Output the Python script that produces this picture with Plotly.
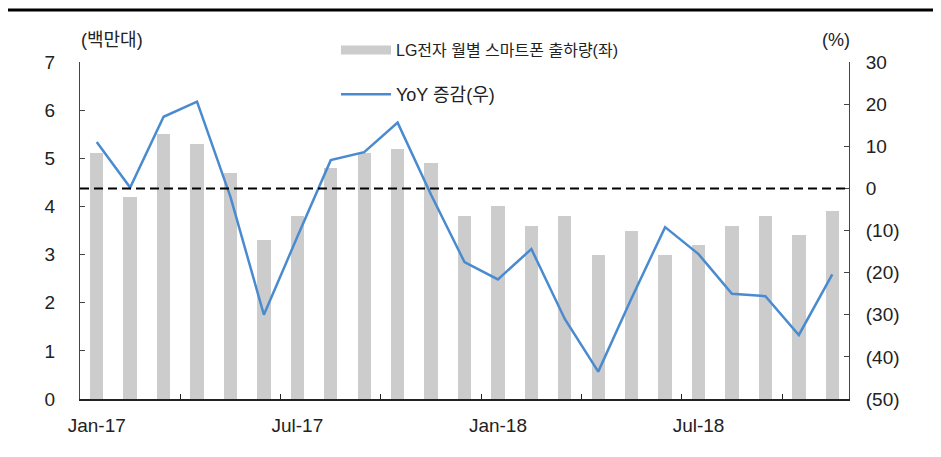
import plotly.graph_objects as go

months = ["Jan-17","Feb-17","Mar-17","Apr-17","May-17","Jun-17","Jul-17","Aug-17","Sep-17","Oct-17","Nov-17","Dec-17",
          "Jan-18","Feb-18","Mar-18","Apr-18","May-18","Jun-18","Jul-18","Aug-18","Sep-18","Oct-18","Nov-18"]
shipments = [5.1, 4.2, 5.5, 5.3, 4.7, 3.3, 3.8, 4.8, 5.1, 5.2, 4.9, 3.8,
             4.0, 3.6, 3.8, 3.0, 3.5, 3.0, 3.2, 3.6, 3.8, 3.4, 3.9]
yoy = [11.0, 0.2, 17.0, 20.6, -2.0, -30.0, -11.5, 6.7, 8.6, 15.6, -1.5, -17.5,
       -21.6, -14.4, -31.0, -43.5, -26.0, -9.2, -15.6, -25.0, -25.6, -34.8, -20.4]
label_idx = [0, 6, 12, 18]
y2_vals = [30, 20, 10, 0, -10, -20, -30, -40, -50]
y2_text = ["30", "20", "10", "0", "(10)", "(20)", "(30)", "(40)", "(50)"]
bar_name = "LG전자 월별 스마트폰 출하량(좌)"
line_name = "YoY 증감(우)"

FONT = "Liberation Sans, Noto Sans CJK KR, sans-serif"
BAR_C = "#cccccc"
LINE_C = "#4a8bd0"
TXT = "#222222"

# page body has an 8px margin; figure sized so the plot lands where the reference has it
W, H = 933, 449
L, T, PW, PH = 72, 54, 769, 337

x = list(range(len(months)))

fig = go.Figure()
fig.add_trace(go.Bar(x=x, y=shipments, width=0.4, marker=dict(color=BAR_C, line=dict(width=0)),
                     showlegend=False, yaxis="y"))
fig.add_trace(go.Scatter(x=x, y=yoy, mode="lines", line=dict(color=LINE_C, width=2.5),
                         showlegend=False, yaxis="y2"))
# legend entries
fig.add_trace(go.Scatter(x=[None], y=[None], mode="lines", line=dict(color=BAR_C, width=9),
                         name=bar_name, legend="legend"))
fig.add_trace(go.Scatter(x=[None], y=[None], mode="lines", line=dict(color=LINE_C, width=2.5),
                         name=line_name, legend="legend2"))


def py(px):  # page-pixel y (in reference) -> paper coord
    return (T + PH - (px - 8)) / PH


def px_(px):
    return ((px - 8) - L) / PW


fig.add_shape(type="line", xref="paper", yref="y2", x0=0, x1=1, y0=0, y1=0,
              line=dict(color="black", width=2, dash="9px,5px"), layer="above")
fig.add_shape(type="line", xref="paper", yref="paper", x0=-0.2, x1=1.2, y0=py(10), y1=py(10),
              line=dict(color="black", width=3))

fig.add_annotation(text="(백만대)", xref="paper", yref="paper", x=px_(79), y=py(40),
                   xanchor="left", yanchor="middle", showarrow=False,
                   font=dict(size=18, family=FONT, color=TXT))
fig.add_annotation(text="(%)", xref="paper", yref="paper", x=px_(852), y=py(40),
                   xanchor="right", yanchor="middle", showarrow=False,
                   font=dict(size=18, family=FONT, color=TXT))

fig.update_layout(
    width=W, height=H,
    margin=dict(l=L, r=W - L - PW, t=T, b=H - T - PH, autoexpand=False),
    paper_bgcolor="white", plot_bgcolor="white",
    font=dict(family=FONT, size=16, color=TXT),
    bargap=0,
    xaxis=dict(range=[-0.5, 22.5], tickmode="array", tickvals=label_idx,
               ticktext=[months[i] for i in label_idx], ticks="", showgrid=False, zeroline=False,
               showline=True, linecolor="#222", linewidth=1.5, automargin=False,
               ticklabelstandoff=8,
               minor=dict(tickmode="array", tickvals=[2.5, 5.5, 8.5, 11.5, 14.5, 17.5, 20.5],
                          ticks="inside", ticklen=5, tickcolor="#222", tickwidth=1, showgrid=False),
               tickfont=dict(size=19)),
    yaxis=dict(range=[0, 7], dtick=1, ticks="inside", ticklen=5, tickcolor="#444",
               showgrid=False, zeroline=False, showline=True, linecolor="#444", linewidth=1,
               automargin=False, ticklabelstandoff=20, tickfont=dict(size=19)),
    yaxis2=dict(range=[-50, 30], overlaying="y", side="right", tickmode="array",
                tickvals=y2_vals, ticktext=y2_text, ticks="inside", ticklen=5, tickcolor="#444",
                showgrid=False, zeroline=False, showline=True, linecolor="#444", linewidth=1,
                automargin=False, ticklabelstandoff=12, tickfont=dict(size=19)),
    legend=dict(x=px_(336), y=py(33), xanchor="left", yanchor="top",
                bgcolor="rgba(0,0,0,0)", itemwidth=50, font=dict(size=16)),
    legend2=dict(x=px_(336), y=py(76), xanchor="left", yanchor="top",
                 bgcolor="rgba(0,0,0,0)", itemwidth=50, font=dict(size=18)),
)

fig.write_html("out.html")
